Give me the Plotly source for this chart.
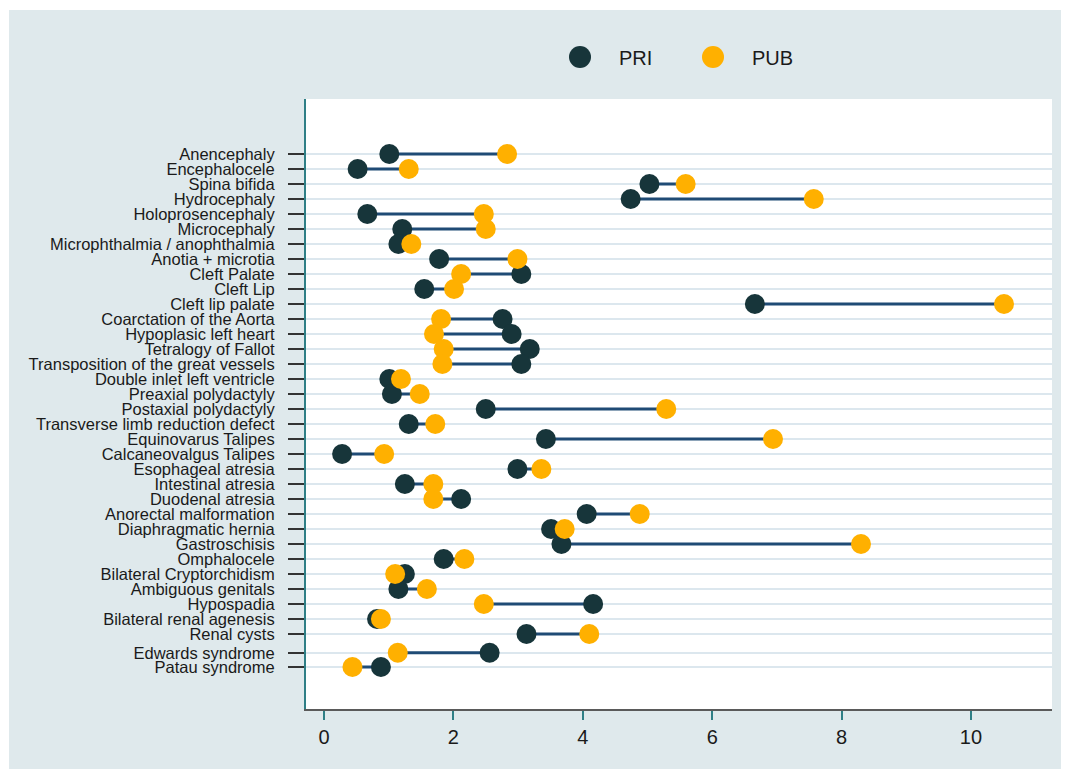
import plotly.graph_objects as go

# ---------------- data ----------------
categories = [
    "Anencephaly", "Encephalocele", "Spina bifida", "Hydrocephaly",
    "Holoprosencephaly", "Microcephaly", "Microphthalmia / anophthalmia",
    "Anotia + microtia", "Cleft Palate", "Cleft Lip", "Cleft lip palate",
    "Coarctation of the Aorta", "Hypoplasic left heart", "Tetralogy of Fallot",
    "Transposition of the great vessels", "Double inlet left ventricle",
    "Preaxial polydactyly", "Postaxial polydactyly",
    "Transverse limb reduction defect", "Equinovarus Talipes",
    "Calcaneovalgus Talipes", "Esophageal atresia", "Intestinal atresia",
    "Duodenal atresia", "Anorectal malformation", "Diaphragmatic hernia",
    "Gastroschisis", "Omphalocele", "Bilateral Cryptorchidism",
    "Ambiguous genitals", "Hypospadia", "Bilateral renal agenesis",
    "Renal cysts", "Edwards syndrome", "Patau syndrome",
]
# category positions on the (reversed) y axis
y_pos = list(range(1, 34)) + [34.25, 35.2]

pri = [1.01, 0.52, 5.03, 4.74, 0.67, 1.21, 1.15, 1.78, 3.05, 1.55, 6.66,
       2.76, 2.90, 3.18, 3.05, 1.01, 1.05, 2.50, 1.31, 3.43, 0.28, 2.99,
       1.25, 2.12, 4.06, 3.51, 3.67, 1.85, 1.25, 1.15, 4.16, 0.82, 3.13,
       2.56, 0.88]
pub = [2.83, 1.31, 5.59, 7.57, 2.47, 2.50, 1.35, 2.99, 2.12, 2.01, 10.51,
       1.81, 1.70, 1.85, 1.83, 1.19, 1.48, 5.29, 1.72, 6.94, 0.93, 3.36,
       1.69, 1.69, 4.88, 3.72, 8.30, 2.17, 1.10, 1.59, 2.47, 0.88, 4.10,
       1.14, 0.44]
x_ticks = [0, 2, 4, 6, 8, 10]
series_names = ["PRI", "PUB"]

# ---------------- style ----------------
PRI_COLOR = "#17353a"
PUB_COLOR = "#ffb000"
LINK_COLOR = "#1f4b75"
BG = "#dfe9ec"
TEXT = "#1a1a1a"
FONT = "Liberation Sans, Arial, sans-serif"

W, H = 1065, 776
L, R, T, B = 306, 1052, 99, 709  # plot area in pixels


def px_x(p):
    return (p - L) / (R - L)


def px_y(p):
    return (B - p) / (B - T)


line_x, line_y = [], []
for p, q, y in zip(pri, pub, y_pos):
    line_x += [p, q, None]
    line_y += [y, y, None]

fig = go.Figure()
fig.add_trace(go.Scatter(
    x=line_x, y=line_y, mode="lines",
    line=dict(color=LINK_COLOR, width=3),
    hoverinfo="skip", showlegend=False))
fig.add_trace(go.Scatter(
    x=pri, y=y_pos, mode="markers", name=series_names[0],
    marker=dict(size=20, color=PRI_COLOR, line=dict(width=0)),
    showlegend=False))
fig.add_trace(go.Scatter(
    x=pub, y=y_pos, mode="markers", name=series_names[1],
    marker=dict(size=20, color=PUB_COLOR, line=dict(width=0)),
    showlegend=False))

shapes = []
# white outer frame around the grey panel
for x0, x1, y0, y1 in [(0, 9, 0, H), (W - 4, W, 0, H), (0, W, 0, 10), (0, W, H - 7, H)]:
    shapes.append(dict(type="rect", xref="paper", yref="paper",
                       x0=px_x(x0), x1=px_x(x1), y0=px_y(y1), y1=px_y(y0),
                       fillcolor="white", line=dict(width=0), layer="above"))

# custom legend
annotations = []
for name, color, cx, tx in [(series_names[0], PRI_COLOR, 580, 617),
                            (series_names[1], PUB_COLOR, 713, 750)]:
    shapes.append(dict(type="circle", xref="paper", yref="paper",
                       xsizemode="pixel", ysizemode="pixel",
                       xanchor=px_x(cx), yanchor=px_y(57),
                       x0=-11, x1=11, y0=-11, y1=11,
                       fillcolor=color, line=dict(width=0)))
    annotations.append(dict(text=name, xref="paper", yref="paper",
                            x=px_x(tx), y=px_y(58), xanchor="left", yanchor="middle",
                            showarrow=False,
                            font=dict(family=FONT, size=20, color=TEXT)))

fig.update_layout(
    width=W, height=H,
    margin=dict(l=L, r=W - R, t=T, b=H - B, pad=0),
    paper_bgcolor=BG, plot_bgcolor="white",
    font=dict(family=FONT, color=TEXT),
    showlegend=False,
    shapes=shapes, annotations=annotations,
    xaxis=dict(
        range=[-0.278, 11.252], tickvals=x_ticks,
        showgrid=False, zeroline=False,
        showline=True, linecolor="#5a5a5a", linewidth=2,
        ticks="outside", ticklen=9, tickwidth=2, tickcolor="#2f7f86",
        tickfont=dict(size=20, color=TEXT, family=FONT),
    ),
    yaxis=dict(
        range=[38, -2.667], tickvals=y_pos, ticktext=categories,
        showgrid=True, gridcolor="#dce7ee", gridwidth=2,
        zeroline=False,
        showline=True, linecolor="#2f7f86", linewidth=2,
        ticks="outside", ticklen=16, tickwidth=2, tickcolor="#333333",
        ticklabelstandoff=10,
        tickfont=dict(size=16.5, color=TEXT, family=FONT),
    ),
)

fig.write_html("out.html", config={"displayModeBar": False},
               post_script="document.body.style.margin='0';")
